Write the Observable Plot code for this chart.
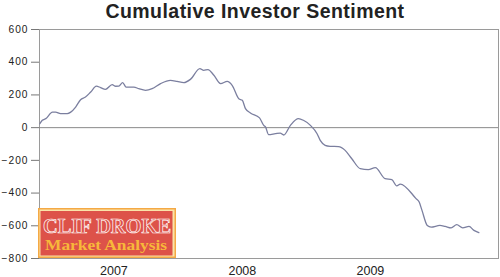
<!DOCTYPE html>
<html>
<head>
<meta charset="utf-8">
<script src="https://cdn.jsdelivr.net/npm/d3@7"></script>
<script src="https://cdn.jsdelivr.net/npm/@observablehq/plot@0.6"></script>
<style>
  html, body { margin: 0; padding: 0; background: #fff; }
  #wrap { position: relative; width: 500px; height: 277px; overflow: hidden; }
  #title { position: absolute; left: 0; top: 0; width: 510px; text-align: center;
    font-family: "Liberation Sans", Arial, sans-serif; font-weight: bold; font-size: 19.5px;
    letter-spacing: 0.45px; color: #222; line-height: 22px; }
  #chart { position: absolute; left: 0; top: 24px; }
  #logo { position: absolute; left: 38px; top: 208px; width: 138px; height: 50px; }
</style>
</head>
<body>
<div id="wrap">
  <div id="title">Cumulative Investor Sentiment</div>
  <div id="chart"></div>
  <svg id="logo" width="138" height="50" viewBox="0 0 138 50">
    <rect x="0" y="0" width="138" height="50" fill="#f4a945"/>
    <rect x="1.5" y="1.5" width="135" height="47" fill="#fbe3a8"/>
    <rect x="2.5" y="3" width="132" height="44.5" fill="#dd5249"/>
    <text x="69" y="25" text-anchor="middle" textLength="128" lengthAdjust="spacingAndGlyphs"
      font-family="'Liberation Serif', 'DejaVu Serif', serif" font-weight="bold" font-size="21"
      fill="#dd5249" stroke="#fff" stroke-width="0.7">CLIF DROKE</text>
    <text x="68" y="42" text-anchor="middle" textLength="122" lengthAdjust="spacingAndGlyphs"
      font-family="'Liberation Serif', 'DejaVu Serif', serif" font-weight="bold" font-size="15"
      fill="#f7b83a">Market Analysis</text>
  </svg>
</div>
<script>
// Dates (approximate) and cumulative sentiment values
const dates = [
  "2006-12-02","2006-12-09","2006-12-19","2007-01-07","2007-01-16","2007-01-30","2007-02-18","2007-02-28",
  "2007-03-14","2007-03-28","2007-04-11","2007-04-26","2007-05-12","2007-05-24","2007-06-07","2007-06-26",
  "2007-07-06","2007-07-15","2007-07-26","2007-08-05","2007-08-27","2007-09-10","2007-09-29","2007-10-18",
  "2007-11-11","2007-12-09","2007-12-28","2008-01-16","2008-02-04","2008-03-02","2008-03-13","2008-03-25",
  "2008-04-11","2008-04-30","2008-05-19","2008-06-02","2008-06-21","2008-07-01","2008-07-10","2008-07-24",
  "2008-08-19","2008-08-31","2008-09-05","2008-09-14","2008-10-03","2008-10-17","2008-10-27","2008-11-15",
  "2008-12-08","2008-12-22","2009-01-11","2009-01-30","2009-02-08","2009-02-22","2009-03-08","2009-04-01",
  "2009-04-20","2009-05-09","2009-06-02","2009-06-25","2009-07-15","2009-08-12","2009-08-31","2009-09-14",
  "2009-09-24","2009-11-08","2009-11-17","2009-11-25","2009-12-10","2009-12-21","2010-01-15","2010-01-30",
  "2010-02-16","2010-03-04","2010-03-21","2010-04-08","2010-04-22","2010-05-06"
];
const values = [
  24, 45, 55, 95, 95, 86, 86, 95,
  126, 171, 187, 218, 254, 245, 234, 263,
  253, 254, 275, 248, 248, 238, 228, 238,
  269, 289, 283, 275, 295, 361, 350, 355,
  320, 269, 283, 259, 177, 167, 116, 90,
  60, 14, 4, -43, -37, -33, -45, 14,
  55, 45, 14, -37, -78, -108, -114, -116,
  -139, -190, -251, -257, -245, -312, -318, -356,
  -345, -434, -455, -506, -598, -608, -598, -604,
  -613, -593, -613, -604, -628, -642
];
const yTicks = [-800, -600, -400, -200, 0, 200, 400, 600];
const xTickDates = ["2007-07-01", "2008-07-01", "2009-07-01"];
const xDomain = ["2006-12-01", "2010-07-01"];

const data = dates.map((d, i) => ({date: new Date(d), value: values[i]}));

const chart = Plot.plot({
  width: 500,
  height: 253,
  marginTop: 5,
  marginLeft: 39,
  marginRight: 2,
  marginBottom: 19,
  style: {fontFamily: "'Liberation Sans', Arial, sans-serif", color: "#222", background: "transparent"},
  x: {type: "utc", domain: xDomain.map(d => new Date(d))},
  y: {domain: [-800, 600]},
  marks: [
    Plot.frame({stroke: "#9a9a9a", strokeWidth: 1}),
    Plot.ruleY([0], {stroke: "#8a8a8a", strokeWidth: 1}),
    Plot.axisY({ticks: yTicks, tickSize: 8, tickPadding: 3, fontSize: 10.2, stroke: "#777",
      label: null}),
    Plot.axisX({ticks: xTickDates.map(d => new Date(d)), tickFormat: d3.utcFormat("%Y"),
      tickSize: 0, tickPadding: 8, fontSize: 12.5, label: null}),
    Plot.lineY(data, {x: "date", y: "value", stroke: "#7b7f9f", strokeWidth: 1.3, curve: "monotone-x"})
  ]
});
chart.querySelectorAll('g[aria-label="y-axis tick label"] text').forEach(t => t.style.letterSpacing = "1px");
document.getElementById("chart").appendChild(chart);
</script>
</body>
</html>
